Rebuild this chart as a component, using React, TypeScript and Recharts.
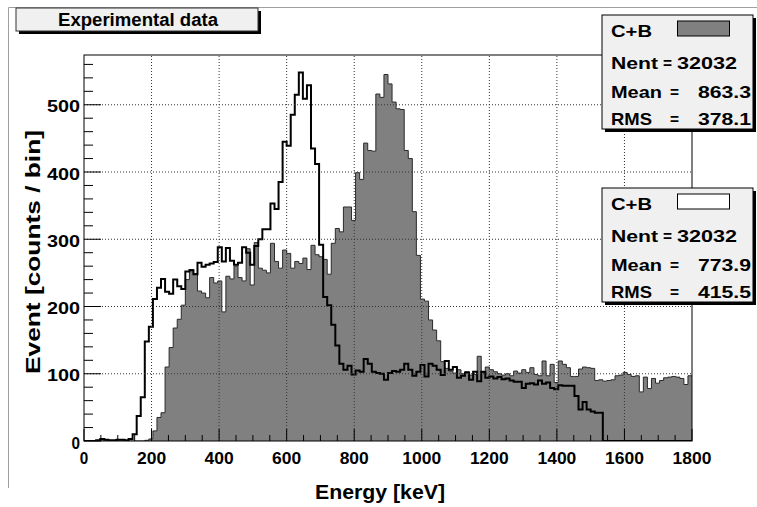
import React from 'react'
import {
  ComposedChart,
  Area,
  Line,
  XAxis,
  YAxis,
  ReferenceLine,
} from 'recharts'

// 150 bins of 12 keV, 0..1800 keV
const BIN_WIDTH = 12

// filled histogram (grey)
const grayCounts = [
  0, 0, 0, 0, 0, 0, 0, 0, 0, 0, 0, 0, 0, 0, 0,
  1, 3, 15, 35, 42, 110, 139, 168, 181, 202, 240, 255, 249, 223, 220,
  213, 243, 235, 238, 192, 245, 241, 260, 243, 238, 286, 232, 295, 257, 254,
  250, 294, 267, 257, 284, 279, 257, 267, 264, 272, 255, 291, 277, 274, 270,
  248, 294, 316, 311, 348, 348, 328, 399, 389, 443, 432, 431, 516, 511, 545,
  531, 504, 494, 493, 432, 420, 341, 276, 211, 208, 180, 165, 149, 118, 108,
  104, 101, 106, 100, 103, 98, 99, 126, 103, 110, 106, 103, 100, 98, 100,
  97, 104, 101, 106, 102, 109, 99, 97, 119, 97, 114, 87, 119, 114, 109,
  96, 96, 107, 110, 109, 108, 90, 91, 89, 90, 91, 97, 98, 102, 99,
  96, 97, 73, 95, 78, 93, 86, 90, 94, 95, 96, 95, 93, 84, 97,
]

// outline histogram (white)
const whiteCounts = [
  0, 0, 0, 1, 3, 2, 1, 1, 2, 2, 1, 3, 10, 37, 65,
  148, 170, 211, 228, 241, 222, 219, 240, 230, 226, 252, 254, 248, 265, 259,
  262, 264, 266, 288, 267, 287, 268, 262, 265, 288, 280, 262, 290, 300, 315,
  315, 353, 345, 385, 445, 439, 485, 515, 548, 509, 529, 435, 412, 292, 214,
  202, 173, 142, 115, 106, 112, 99, 105, 103, 122, 115, 103, 101, 100, 91,
  101, 104, 103, 106, 115, 106, 97, 103, 113, 96, 115, 112, 106, 98, 119,
  106, 110, 94, 97, 102, 91, 103, 89, 103, 94, 96, 93, 95, 92, 93,
  90, 88, 88, 79, 85, 86, 84, 90, 85, 87, 79, 77, 83, 82, 82,
  82, 67, 47, 58, 47, 44, 42, 42, 0, 0, 0, 0, 0, 0, 0,
  0, 0, 0, 0, 0, 0, 0, 0, 0, 0, 0, 0, 0, 0, 0,
]

const xTicks = Array.from({ length: 37 }, (_, i) => i * 50)
const yTicks = Array.from({ length: 29 }, (_, i) => i * 20)
const xGrid = [200, 400, 600, 800, 1000, 1200, 1400, 1600]
const yGrid = [100, 200, 300, 400, 500]

const stats = [
  { top: 15, fill: '#808080', nent: '32032', mean: '863.3', rms: '378.1' },
  { top: 188, fill: '#ffffff', nent: '32032', mean: '773.9', rms: '415.5' },
]

const FONT = '"Liberation Sans", Arial, Helvetica, sans-serif'
const PLOT_LEFT = 84
const PLOT_RIGHT = 692
const PLOT_TOP = 55
const PLOT_BOTTOM = 441

const rows = grayCounts.map((g, i) => ({ e: i * BIN_WIDTH, gray: g, white: whiteCounts[i] }))
rows.push({ e: 1800, gray: grayCounts[grayCounts.length - 1], white: whiteCounts[whiteCounts.length - 1] })

function XTick(props: any) {
  const { x, payload } = props
  const v = payload.value as number
  const major = v % 200 === 0
  const s = String(v)
  return (
    <g>
      <line x1={x} x2={x} y1={PLOT_BOTTOM} y2={PLOT_BOTTOM - (major ? 12 : 6)} stroke="#000" strokeWidth={1} />
      {major && (
        <text
          x={x}
          y={463.5}
          textAnchor="middle"
          fontFamily={FONT}
          fontWeight="bold"
          fontSize={16}
          fill="#000"
          textLength={s.length === 1 ? 8.5 : s.length * 9.7}
          lengthAdjust="spacingAndGlyphs"
        >
          {s}
        </text>
      )}
    </g>
  )
}

function YTick(props: any) {
  const { y, payload } = props
  const v = payload.value as number
  const major = v % 100 === 0
  const s = String(v)
  return (
    <g>
      <line x1={PLOT_LEFT} x2={PLOT_LEFT + (major ? 17 : 9)} y1={y} y2={y} stroke="#000" strokeWidth={1} />
      {major && (
        <text
          x={80}
          y={y + 7.5}
          textAnchor="end"
          fontFamily={FONT}
          fontWeight="bold"
          fontSize={16}
          fill="#000"
          textLength={s.length === 1 ? 8.5 : 33}
          lengthAdjust="spacingAndGlyphs"
        >
          {s}
        </text>
      )}
    </g>
  )
}

function T({ x, y, len, children, anchor = 'start', size = 17 }: any) {
  return (
    <text
      x={x}
      y={y}
      textAnchor={anchor}
      fontFamily={FONT}
      fontWeight="bold"
      fontSize={size}
      fill="#000"
      textLength={len}
      lengthAdjust="spacingAndGlyphs"
    >
      {children}
    </text>
  )
}

function StatBox({ top, fill, nent, mean, rms }: any) {
  const left = 602
  const w = 151
  const h = 114
  return (
    <g>
      <rect x={left + 3} y={top + 3} width={w} height={h} fill="#000" />
      <rect x={left} y={top} width={w} height={h} fill="#f0f0f0" stroke="#000" strokeWidth={1} />
      <rect x={677.5} y={top + 6} width={52} height={15} fill={fill} stroke="#000" strokeWidth={1} />
      <T x={611} y={top + 22} len={41}>C+B</T>
      <T x={611} y={top + 54} len={47}>Nent</T>
      <T x={663} y={top + 54} len={9}>=</T>
      <T x={677} y={top + 54} len={60}>{nent}</T>
      <T x={611} y={top + 82.5} len={51}>Mean</T>
      <T x={670} y={top + 82.5} len={9}>=</T>
      <T x={698} y={top + 82.5} len={53}>{mean}</T>
      <T x={611} y={top + 109.5} len={41}>RMS</T>
      <T x={670} y={top + 109.5} len={9}>=</T>
      <T x={698} y={top + 109.5} len={53}>{rms}</T>
    </g>
  )
}

export default function App() {
  return (
    <div style={{ position: 'absolute', left: 0, top: 0, width: 757, height: 507, background: '#fff' }}>
      <ComposedChart
        width={757}
        height={507}
        data={rows}
        margin={{ top: PLOT_TOP, right: 757 - PLOT_RIGHT, bottom: 36, left: 24 }}
      >
        <Area
          type="stepAfter"
          dataKey="gray"
          fill="#808080"
          fillOpacity={1}
          stroke="#2a2a2a"
          strokeWidth={1}
          baseValue={0}
          isAnimationActive={false}
          dot={false}
          activeDot={false}
        />
        <Line
          type="stepAfter"
          dataKey="white"
          stroke="#000"
          strokeWidth={2}
          dot={false}
          activeDot={false}
          isAnimationActive={false}
        />
        {xGrid.map((v) => (
          <ReferenceLine key={'x' + v} x={v} stroke="#333" strokeWidth={1} strokeDasharray="1 2" />
        ))}
        {yGrid.map((v) => (
          <ReferenceLine key={'y' + v} y={v} stroke="#333" strokeWidth={1} strokeDasharray="1 2" />
        ))}
        <XAxis
          type="number"
          dataKey="e"
          domain={[0, 1800]}
          ticks={xTicks}
          interval={0}
          height={30}
          axisLine={false}
          tickLine={false}
          tick={<XTick />}
          allowDataOverflow
        />
        <YAxis
          type="number"
          domain={[0, 574]}
          ticks={yTicks}
          interval={0}
          width={60}
          axisLine={false}
          tickLine={false}
          tick={<YTick />}
          allowDataOverflow
        />
      </ComposedChart>
      <svg
        width={757}
        height={507}
        style={{ position: 'absolute', left: 0, top: 0, pointerEvents: 'none' }}
      >
        <line x1={8.5} x2={8.5} y1={7.5} y2={488} stroke="#a0a0a0" strokeWidth={1} />
        <line x1={8.5} x2={757} y1={7.5} y2={7.5} stroke="#a0a0a0" strokeWidth={1} />
        <rect
          x={PLOT_LEFT}
          y={PLOT_TOP}
          width={PLOT_RIGHT - PLOT_LEFT}
          height={PLOT_BOTTOM - PLOT_TOP}
          fill="none"
          stroke="#000"
          strokeWidth={1}
        />
        <rect x={19} y={11} width={242} height={23} fill="#000" />
        <rect x={16} y={8} width={242} height={23} fill="#f0f0f0" stroke="#333" strokeWidth={1} />
        <T x={58} y={26} len={160} size={17.5}>Experimental data</T>
        {stats.map((s) => (
          <StatBox key={s.top} {...s} />
        ))}
        <T x={380} y={499} len={130} anchor="middle" size={20}>Energy [keV]</T>
        <g transform="translate(40 252) rotate(-90)">
          <T x={0} y={0} len={244} anchor="middle" size={20}>Event [counts / bin]</T>
        </g>
      </svg>
    </div>
  )
}
